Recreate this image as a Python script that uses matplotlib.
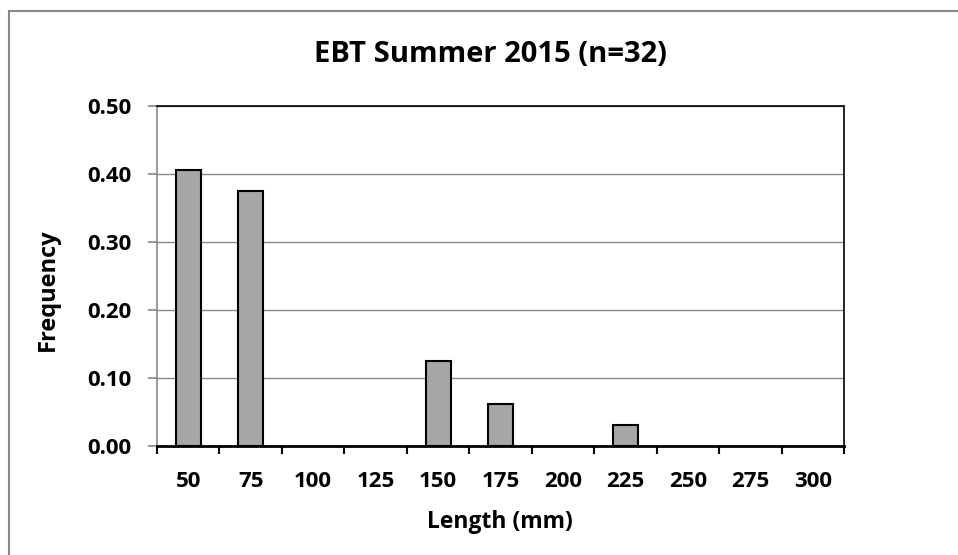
import matplotlib
matplotlib.use("Agg")
import matplotlib.pyplot as plt
from matplotlib.patches import Rectangle
import numpy as np

categories = ["50", "75", "100", "125", "150", "175", "200", "225", "250", "275", "300"]
frequency = [0.40625, 0.375, 0.0, 0.0, 0.125, 0.0625, 0.0, 0.03125, 0.0, 0.0, 0.0]
yticks = [0.0, 0.1, 0.2, 0.3, 0.4, 0.5]

plt.rcParams['font.family'] = ['Open Sans', 'DejaVu Sans']
plt.rcParams['font.weight'] = 'bold'

fig = plt.figure(figsize=(9.58, 5.55), dpi=100)
ax = fig.add_axes([157/958, 1-446/555, (844-157)/958, (446-106)/555])

# outer chart border
fig.patches.append(Rectangle((9/958, -0.05), 1.2, (555-11)/555 + 0.05, transform=fig.transFigure,
                             fill=False, edgecolor='#888888', linewidth=1.5))

x = np.arange(len(categories))
edge = ['black' if v > 0 else 'none' for v in frequency]
ax.bar(x, frequency, width=0.4, color='#a6a6a6', edgecolor=edge, linewidth=1.5, zorder=3)

ax.set_xlim(-0.5, len(categories) - 0.5)
ax.set_ylim(0, 0.5)
ax.set_yticks(yticks)
ax.set_yticklabels([f"{v:.2f}" for v in yticks])
ax.yaxis.grid(True, color='#888888', linewidth=1.0, zorder=0)
ax.set_axisbelow(True)

ax.set_xticks(x)
ax.set_xticklabels(categories)
ax.tick_params(axis='x', length=0, pad=18, labelsize=16)
ax.set_xticks(np.arange(-0.5, len(categories) + 0.5, 1), minor=True)
ax.tick_params(axis='x', which='minor', length=6, width=1.5, color='black')
ax.tick_params(axis='y', length=6.5, width=1.2, color='#888888', labelsize=16, pad=12)

for lab in ax.get_xticklabels() + ax.get_yticklabels():
    lab.set_fontweight('bold')

ax.spines['left'].set_color('#888888')
ax.spines['left'].set_linewidth(1.2)
ax.spines['bottom'].set_color('black')
ax.spines['bottom'].set_linewidth(2.0)
ax.spines['top'].set_color('black')
ax.spines['top'].set_linewidth(1.2)
ax.spines['right'].set_color('black')
ax.spines['right'].set_linewidth(1.2)

fig.text(500/958, 1-522/555, "Length (mm)", ha='center', va='center',
         fontsize=16.5, fontweight='bold')
fig.text(48/958, 1-290/555, "Frequency", ha='center', va='center', rotation=90,
         fontsize=17, fontweight='bold')
fig.text(490/958, 1-54/555, "EBT Summer 2015 (n=32)", ha='center', va='center',
         fontsize=21, fontweight='bold')

fig.savefig("out.png", dpi=100)
